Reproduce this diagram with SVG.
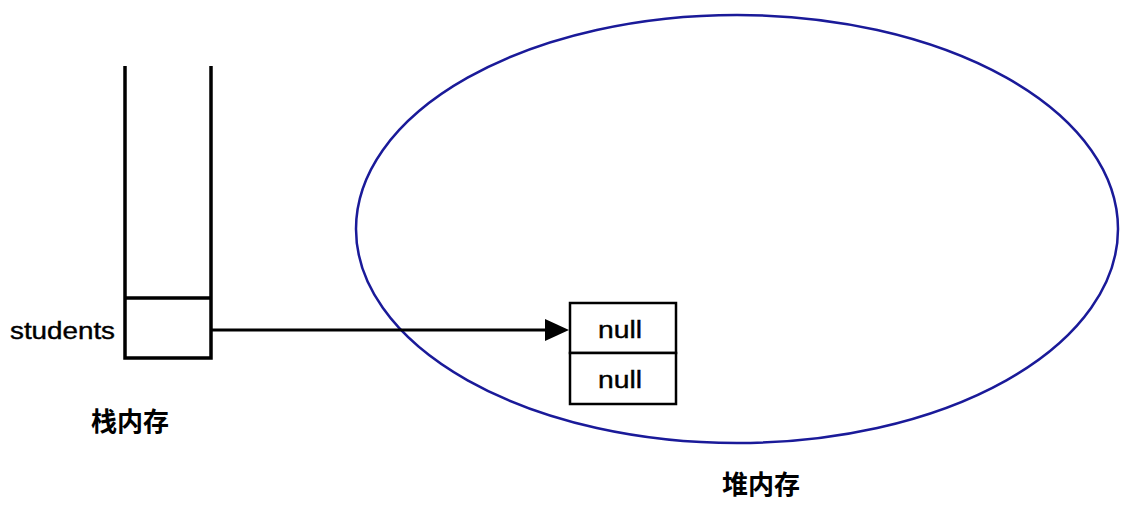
<svg xmlns="http://www.w3.org/2000/svg" width="1134" height="508" viewBox="0 0 1134 508">
<style>
.ln{stroke:#000;stroke-width:3.5;fill:none}
.box{stroke:#000;stroke-width:2.5;fill:#fff}
.t{font-family:"Liberation Sans",Arial,sans-serif;font-size:23px;fill:#000;stroke:#000;stroke-width:0.4}
.cjk{font-family:"Noto Sans CJK SC",sans-serif;font-size:26px;font-weight:bold;fill:#000}
</style>
<rect width="1134" height="508" fill="#fff"/>
<g id="heap">
<ellipse cx="737" cy="229" rx="381" ry="214" fill="none" stroke="#1a1a99" stroke-width="2.5"/>
<text class="cjk" x="761" y="494" text-anchor="middle">堆内存</text>
</g>
<g id="stack">
<path class="ln" d="M125,66 V358 H211 V66 M125,298 H211"/>
<text class="t" x="10" y="339" textLength="105" lengthAdjust="spacingAndGlyphs">students</text>
<text class="cjk" x="130" y="431" text-anchor="middle">栈内存</text>
</g>
<g id="array">
<rect class="box" x="570" y="303" width="106" height="50"/>
<rect class="box" x="570" y="353" width="106" height="51"/>
<text class="t" x="598" y="338" textLength="44" lengthAdjust="spacingAndGlyphs">null</text>
<text class="t" x="598" y="388" textLength="44" lengthAdjust="spacingAndGlyphs">null</text>
</g>
<g id="connectors">
<line x1="212" y1="330" x2="546" y2="330" stroke="#000" stroke-width="3"/>
<path d="M545,319 L569,330 L545,341 z" fill="#000"/>
</g>
</svg>
